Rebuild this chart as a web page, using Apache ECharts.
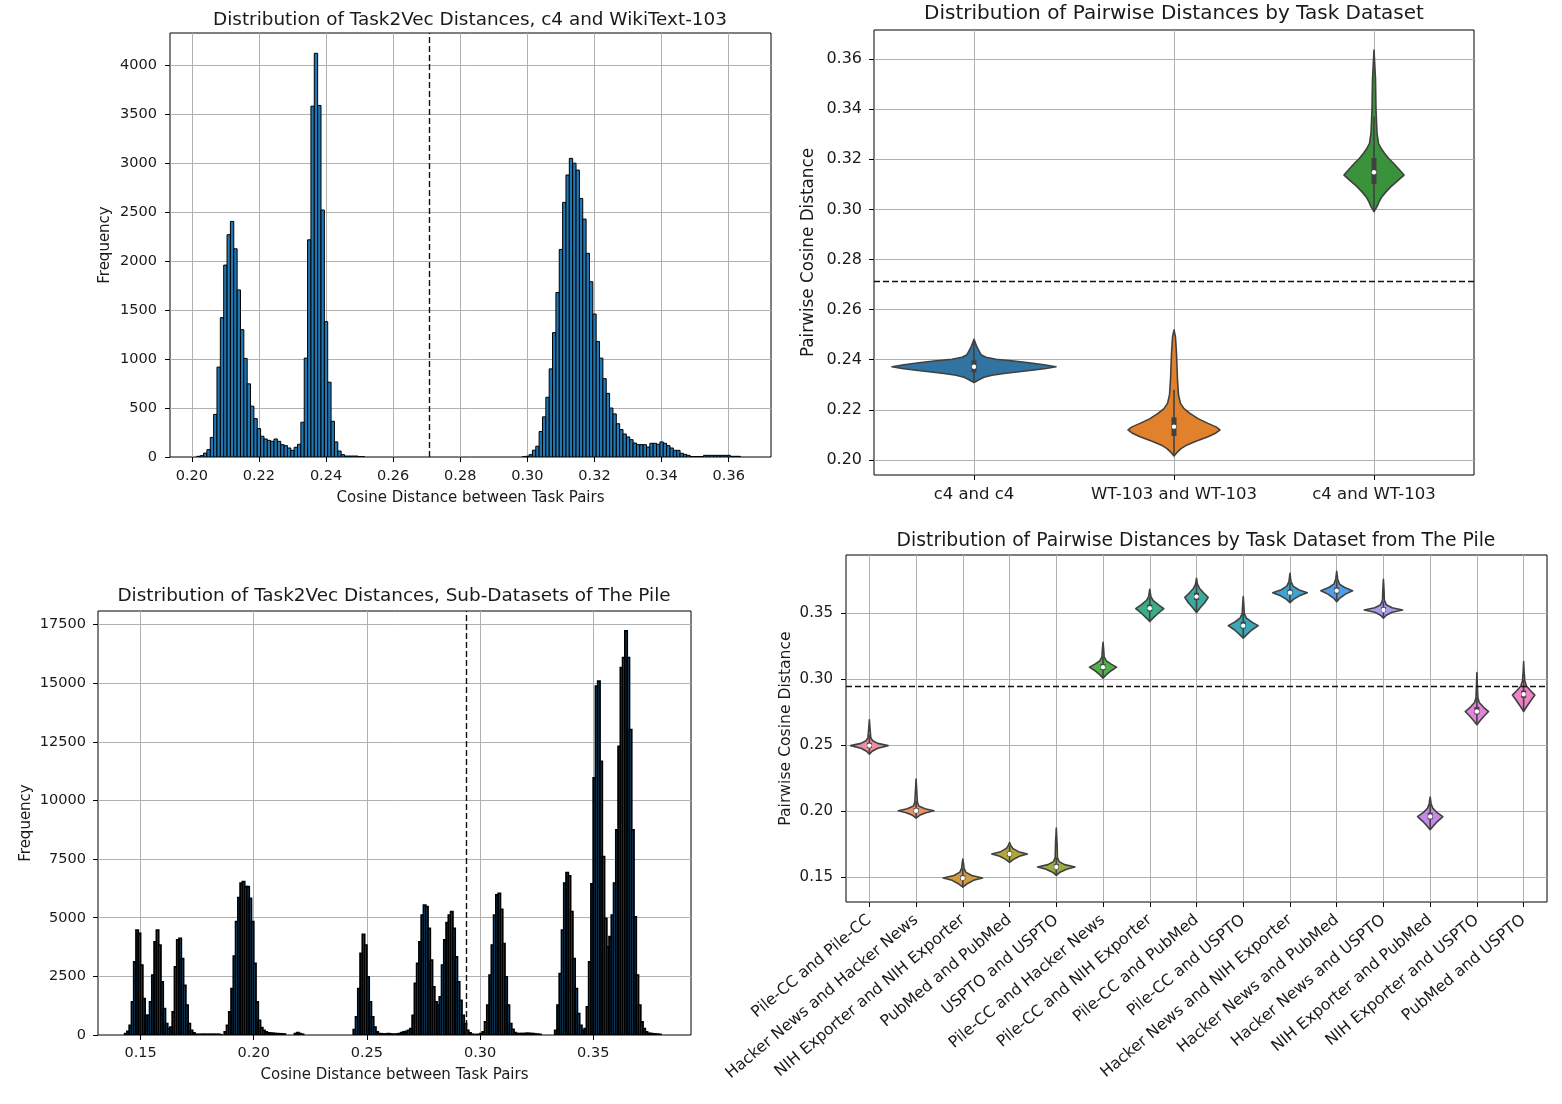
<!DOCTYPE html>
<html>
<head>
<meta charset="utf-8">
<script src="https://cdn.jsdelivr.net/npm/echarts@6/dist/echarts.min.js"></script>
<style>
html,body{margin:0;padding:0;background:#ffffff;}
#chart{width:1562px;height:1104px;}
</style>
</head>
<body>
<div id="chart"></div>
<script>
// ---------------- DATA ----------------
// Top-left histogram: c4 and WikiText-103 (bins of width 0.001 starting at 0.2015)
const hist1Start = 0.2015;
const hist1BinWidth = 0.001;
const hist1Counts = [
  7,14,40,75,200,435,918,1423,1960,2270,
  2406,2126,1706,1300,1007,747,519,392,290,212,
  184,170,160,184,160,126,116,92,68,99,
  130,355,1010,2218,3583,4123,3590,2522,1382,764,
  365,154,61,24,10,10,10,10,3,3,
  0,0,0,0,0,0,0,0,0,0,
  0,0,0,0,0,0,0,0,0,0,
  0,0,0,0,0,0,0,0,0,0,
  0,0,0,0,0,0,0,0,0,0,
  0,0,0,0,0,0,0,3,8,24,
  70,110,260,410,610,900,1270,1680,2120,2600,
  2880,3050,3000,2930,2640,2430,2080,1790,1460,1180,
  1010,800,650,500,440,340,280,235,205,177,
  143,126,126,126,102,140,140,130,154,140,
  116,92,68,68,38,27,17,5,5,5,
  5,17,17,17,17,17,17,17,17,7,
  7,7
];
const hist1Threshold = 0.2709;
const hist1XTicks = [0.20,0.22,0.24,0.26,0.28,0.30,0.32,0.34,0.36];
const hist1YTicks = [0,500,1000,1500,2000,2500,3000,3500,4000];

// Bottom-left histogram: sub-datasets of The Pile (bins of width 0.001 starting at 0.143)
const hist2Start = 0.143;
const hist2BinWidth = 0.001;
const hist2Counts = [
  57,150,413,1410,3120,4475,4330,2980,1550,840,
  840,1410,2550,3975,4475,3830,2265,1125,485,270,
  340,983,2900,4050,4120,3260,2120,1270,485,200,
  85,28,20,25,25,25,25,25,25,25,
  25,25,10,0,128,413,983,1980,3360,4830,
  5860,6470,6540,6330,6330,5830,4830,3050,1410,627,
  313,200,128,85,80,70,60,55,50,45,
  40,0,0,0,0,57,100,57,30,0,
  0,0,0,0,0,0,0,0,0,0,
  0,0,0,0,0,0,0,0,0,0,
  0,228,770,1980,3480,4290,3830,2480,1410,770,
  340,128,57,50,40,40,57,40,30,30,
  40,60,100,128,150,200,270,840,2195,3050,
  3975,5115,5540,5470,4545,3190,2050,1410,1270,1625,
  2980,4050,4790,5115,5260,4545,3335,2265,1480,840,
  485,200,85,30,10,20,20,60,128,555,
  1270,2550,3830,5115,5970,6040,5360,3900,2480,1270,
  485,242,100,57,57,57,57,70,70,57,
  57,40,30,20,0,0,0,0,0,0,
  200,1270,2620,4475,6470,6925,6780,5260,3260,1980,
  910,413,200,270,1197,3120,6440,10960,14880,15090,
  11670,7610,4970,3760,4190,5115,6470,8750,12310,15660,
  16090,17230,16090,13020,8750,5040,2550,1270,555,270,
  128,70,60,50,40,30,20
];
const hist2Threshold = 0.2941;
const hist2XTicks = [0.15,0.20,0.25,0.30,0.35];
const hist2YTicks = [0,2500,5000,7500,10000,12500,15000,17500];

// Top-right violins: profile = [value, half width as fraction of category band]
const violin1Categories = ['c4 and c4','WT-103 and WT-103','c4 and WT-103'];
const violin1Profiles = [
  [[0.2309,0],[0.2320,0.025],[0.2330,0.05],[0.2338,0.09],[0.2345,0.15],[0.2352,0.225],[0.2358,0.29],[0.2365,0.36],[0.2372,0.41],[0.2380,0.35],[0.2388,0.275],[0.2395,0.2],[0.2402,0.11],[0.2410,0.06],[0.2420,0.035],[0.2435,0.025],[0.2450,0.015],[0.2482,0]],
  [[0.2016,0],[0.2030,0.015],[0.2045,0.035],[0.2060,0.065],[0.2075,0.11],[0.2093,0.17],[0.2108,0.21],[0.2120,0.23],[0.2132,0.21],[0.2146,0.17],[0.2165,0.12],[0.2186,0.08],[0.2205,0.05],[0.2226,0.0325],[0.2260,0.0225],[0.2320,0.0175],[0.2425,0.0125],[0.2490,0.0075],[0.2519,0]],
  [[0.2991,0],[0.3011,0.015],[0.3030,0.025],[0.3051,0.04],[0.3070,0.06],[0.3091,0.085],[0.3112,0.115],[0.3137,0.15],[0.3160,0.125],[0.3184,0.0975],[0.3204,0.0725],[0.3224,0.0525],[0.3244,0.035],[0.3264,0.0225],[0.3304,0.015],[0.3400,0.01],[0.3520,0.0075],[0.3636,0]]
];
// [whisker low, q1, median, q3, whisker high]
const violin1Boxes = [
  [0.2309,0.2350,0.2372,0.2398,0.2470],
  [0.2016,0.2096,0.2133,0.2170,0.2280],
  [0.2991,0.3101,0.3148,0.3205,0.3370]
];
const violin1Threshold = 0.2714;
const violin1YTicks = [0.20,0.22,0.24,0.26,0.28,0.30,0.32,0.34,0.36];

// Bottom-right violins
const violin2Categories = [
  'Pile-CC and Pile-CC','Hacker News and Hacker News','NIH Exporter and NIH Exporter',
  'PubMed and PubMed','USPTO and USPTO','Pile-CC and Hacker News','Pile-CC and NIH Exporter',
  'Pile-CC and PubMed','Pile-CC and USPTO','Hacker News and NIH Exporter','Hacker News and PubMed',
  'Hacker News and USPTO','NIH Exporter and PubMed','NIH Exporter and USPTO','PubMed and USPTO'
];
const violin2Profiles = [
  [[0.2433,0],[0.2455,0.06],[0.2478,0.18],[0.2498,0.40],[0.2515,0.18],[0.2535,0.072],[0.2555,0.032],[0.2600,0.02],[0.2693,0]],
  [[0.1949,0],[0.1970,0.076],[0.1990,0.21],[0.2005,0.38],[0.2020,0.19],[0.2040,0.057],[0.2070,0.027],[0.2150,0.015],[0.2244,0]],
  [[0.1427,0],[0.1450,0.084],[0.1478,0.23],[0.1495,0.42],[0.1515,0.19],[0.1540,0.063],[0.1570,0.025],[0.1610,0.013],[0.1639,0]],
  [[0.1613,0],[0.1635,0.076],[0.1660,0.21],[0.1677,0.38],[0.1695,0.19],[0.1720,0.068],[0.1745,0.023],[0.1765,0]],
  [[0.1515,0],[0.1540,0.08],[0.1562,0.22],[0.1579,0.40],[0.1597,0.18],[0.1620,0.06],[0.1650,0.024],[0.1760,0.016],[0.1874,0]],
  [[0.3008,0],[0.3035,0.072],[0.3065,0.174],[0.3092,0.29],[0.3115,0.174],[0.3140,0.072],[0.3170,0.023],[0.3220,0.015],[0.3281,0]],
  [[0.3437,0],[0.3465,0.075],[0.3500,0.18],[0.3535,0.30],[0.3565,0.18],[0.3595,0.075],[0.3625,0.024],[0.3682,0]],
  [[0.3505,0],[0.3540,0.075],[0.3580,0.175],[0.3620,0.25],[0.3655,0.15],[0.3690,0.063],[0.3720,0.02],[0.3765,0]],
  [[0.3311,0],[0.3340,0.08],[0.3375,0.19],[0.3406,0.32],[0.3435,0.176],[0.3465,0.064],[0.3500,0.022],[0.3560,0.013],[0.3626,0]],
  [[0.3580,0],[0.3605,0.074],[0.3632,0.2],[0.3656,0.37],[0.3678,0.185],[0.3705,0.067],[0.3740,0.022],[0.3803,0]],
  [[0.3588,0],[0.3615,0.068],[0.3645,0.187],[0.3671,0.34],[0.3695,0.17],[0.3720,0.061],[0.3760,0.02],[0.3818,0]],
  [[0.3462,0],[0.3485,0.06],[0.3508,0.185],[0.3525,0.41],[0.3542,0.185],[0.3565,0.06],[0.3600,0.02],[0.3680,0.012],[0.3757,0]],
  [[0.1861,0],[0.1890,0.068],[0.1925,0.16],[0.1961,0.27],[0.1990,0.15],[0.2025,0.054],[0.2060,0.019],[0.2108,0]],
  [[0.2655,0],[0.2685,0.063],[0.2720,0.15],[0.2756,0.25],[0.2790,0.138],[0.2825,0.05],[0.2860,0.02],[0.2950,0.01],[0.3051,0]],
  [[0.2756,0],[0.2790,0.06],[0.2840,0.156],[0.2880,0.24],[0.2915,0.144],[0.2950,0.06],[0.2990,0.024],[0.3060,0.01],[0.3134,0]]
];
const violin2Boxes = [
  [0.2440,0.2480,0.2498,0.2520,0.2580],
  [0.1955,0.1990,0.2005,0.2025,0.2080],
  [0.1435,0.1480,0.1495,0.1515,0.1570],
  [0.1620,0.1660,0.1677,0.1695,0.1740],
  [0.1520,0.1562,0.1579,0.1600,0.1650],
  [0.3010,0.3070,0.3092,0.3115,0.3170],
  [0.3445,0.3515,0.3538,0.3565,0.3620],
  [0.3510,0.3600,0.3626,0.3655,0.3720],
  [0.3315,0.3385,0.3406,0.3435,0.3500],
  [0.3585,0.3640,0.3656,0.3680,0.3730],
  [0.3595,0.3650,0.3671,0.3695,0.3750],
  [0.3465,0.3510,0.3525,0.3545,0.3590],
  [0.1865,0.1940,0.1961,0.1990,0.2060],
  [0.2660,0.2735,0.2756,0.2790,0.2860],
  [0.2760,0.2860,0.2887,0.2915,0.3000]
];
const violin2Threshold = 0.2945;
const violin2YTicks = [0.15,0.20,0.25,0.30,0.35];

// ---------------- STYLES ----------------
const FONT = 'DejaVu Sans';
const TXT = '#1a1a1a';
const GRIDC = '#b0b0b0';
const HIST_FILL = '#1f77b4';
const VIOLIN1_COLORS = ['#3274a1','#e1812c','#3a923a'];
const VIOLIN2_COLORS = ['#ec8fa2','#e8926d','#cf9a40','#b3a43c','#99ae40','#50b04c','#3aae8b','#3aac9f','#3ba9b3','#3fa4cd','#4f9ee8','#a79dec','#c689e9','#e284dc','#eb84c3'];
const EDGE = '#404040';

const chart = echarts.init(document.getElementById('chart'), null, {renderer: 'canvas', width: 1562, height: 1104});

function histRender(binWidth, edgeWidth) {
  return function (params, api) {
    const x0 = api.value(0), c = api.value(1);
    if (!c) return null;
    const p0 = api.coord([x0, 0]);
    const p1 = api.coord([x0 + binWidth, c]);
    return {
      type: 'rect',
      shape: {x: p0[0], y: p1[1], width: p1[0] - p0[0], height: p0[1] - p1[1]},
      style: {fill: HIST_FILL, stroke: '#000', lineWidth: edgeWidth}
    };
  };
}

function violinRender(profiles, boxes, colors) {
  return function (params, api) {
    const i = params.dataIndex;
    const band = api.size([1, 0])[0];
    const cx = api.coord([i, boxes[i][2]])[0];
    const prof = profiles[i];
    const pts = [];
    for (let k = 0; k < prof.length; k++) {
      pts.push([cx + prof[k][1] * band, api.coord([i, prof[k][0]])[1]]);
    }
    for (let k = prof.length - 1; k >= 0; k--) {
      pts.push([cx - prof[k][1] * band, api.coord([i, prof[k][0]])[1]]);
    }
    const yy = boxes[i].map(v => api.coord([i, v])[1]);
    return {
      type: 'group',
      children: [
        {type: 'polygon', shape: {points: pts}, style: {fill: colors[i], stroke: EDGE, lineWidth: 1.6, lineJoin: 'round'}},
        {type: 'line', shape: {x1: cx, y1: yy[0], x2: cx, y2: yy[4]}, style: {stroke: EDGE, lineWidth: 1.6}},
        {type: 'line', shape: {x1: cx, y1: yy[1], x2: cx, y2: yy[3]}, style: {stroke: EDGE, lineWidth: 5}},
        {type: 'circle', shape: {cx: cx, cy: yy[2], r: 2.2}, style: {fill: '#ffffff'}}
      ]
    };
  };
}

function valueAxis(gridIndex, min, max, ticks, fmt, margin, name, nameGap, fs, nfs) {
  return {
    type: 'value', gridIndex: gridIndex, min: min, max: max,
    name: name, nameLocation: 'middle', nameGap: nameGap,
    nameTextStyle: {fontSize: nfs || 15, color: TXT, fontFamily: FONT},
    axisLine: {show: false},
    axisTick: {show: true, length: 5, customValues: ticks, lineStyle: {color: '#000', width: 1}},
    axisLabel: {customValues: ticks, formatter: fmt, margin: margin, fontSize: fs || 14.5, color: TXT, fontFamily: FONT},
    splitLine: {show: false}
  };
}

function categoryAxis(gridIndex, cats, labelOpt) {
  return {
    type: 'category', gridIndex: gridIndex, data: cats, boundaryGap: true,
    axisLine: {show: false},
    axisTick: {show: true, alignWithLabel: true, length: 5, interval: 0, lineStyle: {color: '#000', width: 1}},
    axisLabel: Object.assign({interval: 0, fontSize: 14.5, color: TXT, fontFamily: FONT}, labelOpt),
    splitLine: {show: false}
  };
}

function gridLines(xIdx, yIdx, anchor, xVals, yVals) {
  return {
    type: 'line', xAxisIndex: xIdx, yAxisIndex: yIdx, data: [anchor], symbol: 'none', silent: true,
    lineStyle: {opacity: 0}, z: 1,
    markLine: {
      silent: true, symbol: ['none', 'none'], label: {show: false}, z: 1, precision: 6,
      lineStyle: {color: GRIDC, width: 1, type: 'solid'},
      emphasis: {disabled: true},
      data: xVals.map(v => ({xAxis: v})).concat(yVals.map(v => ({yAxis: v})))
    }
  };
}

function thresholdLine(xIdx, yIdx, anchor, spec) {
  return {
    type: 'line', xAxisIndex: xIdx, yAxisIndex: yIdx, data: [anchor], symbol: 'none', silent: true,
    lineStyle: {opacity: 0}, z: 20,
    markLine: {
      silent: true, symbol: ['none', 'none'], label: {show: false}, z: 20, precision: 6,
      lineStyle: {color: '#111', width: 1.4, type: [6, 3]},
      emphasis: {disabled: true},
      data: [spec]
    }
  };
}

const fmt2 = v => Number(v).toFixed(2);
const fmt0 = v => String(Math.round(v));

const hist1Data = hist1Counts.map((c, i) => [hist1Start + i * hist1BinWidth, c]);
const hist2Data = hist2Counts.map((c, i) => [hist2Start + i * hist2BinWidth, c]);

const gridBase = {show: true, borderColor: '#000', borderWidth: 1, backgroundColor: 'transparent', containLabel: false};

const titleStyle = {fontSize: 18, fontWeight: 'normal', color: TXT, fontFamily: FONT};

const option = {
  animation: false,
  backgroundColor: '#ffffff',
  textStyle: {fontFamily: FONT},
  title: [
    {text: 'Distribution of Task2Vec Distances, c4 and WikiText-103', left: 470, top: 11, textAlign: 'center', padding: 0, textStyle: Object.assign({}, titleStyle, {fontSize: 18.4})},
    {text: 'Distribution of Pairwise Distances by Task Dataset', left: 1174, top: 4, textAlign: 'center', padding: 0, textStyle: Object.assign({}, titleStyle, {fontSize: 20})},
    {text: 'Distribution of Task2Vec Distances, Sub-Datasets of The Pile', left: 394, top: 587, textAlign: 'center', padding: 0, textStyle: Object.assign({}, titleStyle, {fontSize: 18.4})},
    {text: 'Distribution of Pairwise Distances by Task Dataset from The Pile', left: 1196, top: 532, textAlign: 'center', padding: 0, textStyle: Object.assign({}, titleStyle, {fontSize: 18.8})}
  ],
  grid: [
    Object.assign({left: 170, top: 33, width: 601, height: 424}, gridBase),
    Object.assign({left: 874, top: 30, width: 600, height: 445}, gridBase),
    Object.assign({left: 98, top: 611, width: 593, height: 424}, gridBase),
    Object.assign({left: 846, top: 555, width: 701, height: 347}, gridBase)
  ],
  xAxis: [
    valueAxis(0, 0.1935, 0.3726, hist1XTicks, fmt2, 12, 'Cosine Distance between Task Pairs', 34),
    categoryAxis(1, violin1Categories, {margin: 11, fontSize: 16.5}),
    valueAxis(2, 0.1312, 0.3932, hist2XTicks, fmt2, 11, 'Cosine Distance between Task Pairs', 33),
    categoryAxis(3, violin2Categories, {margin: 16, rotate: 40, fontSize: 15.8})
  ],
  yAxis: [
    valueAxis(0, 0, 4330, hist1YTicks, fmt0, 13, 'Frequency', 57),
    valueAxis(1, 0.1940, 0.3716, violin1YTicks, fmt2, 12, 'Pairwise Cosine Distance', 57, 16, 16.8),
    valueAxis(2, 0, 18080, hist2YTicks, fmt0, 12, 'Frequency', 64),
    valueAxis(3, 0.1314, 0.3941, violin2YTicks, fmt2, 13, 'Pairwise Cosine Distance', 52, 15, 15.6)
  ],
  series: [
    gridLines(0, 0, [0.25, 100], hist1XTicks, hist1YTicks.filter(v => v !== 0)),
    gridLines(1, 1, [violin1Categories[0], 0.25], violin1Categories, violin1YTicks),
    gridLines(2, 2, [0.25, 100], hist2XTicks, hist2YTicks.filter(v => v !== 0)),
    gridLines(3, 3, [violin2Categories[0], 0.25], violin2Categories, violin2YTicks),
    {
      type: 'custom', xAxisIndex: 0, yAxisIndex: 0, z: 10, clip: true,
      data: hist1Data, encode: {x: 0, y: 1}, renderItem: histRender(hist1BinWidth, 1)
    },
    {
      type: 'custom', xAxisIndex: 2, yAxisIndex: 2, z: 10, clip: true,
      data: hist2Data, encode: {x: 0, y: 1}, renderItem: histRender(hist2BinWidth, 1.8)
    },
    {
      type: 'custom', xAxisIndex: 1, yAxisIndex: 1, z: 10, clip: true,
      data: violin1Boxes.map((b, i) => [i, b[2]]), encode: {x: 0, y: 1},
      renderItem: violinRender(violin1Profiles, violin1Boxes, VIOLIN1_COLORS)
    },
    {
      type: 'custom', xAxisIndex: 3, yAxisIndex: 3, z: 10, clip: true,
      data: violin2Boxes.map((b, i) => [i, b[2]]), encode: {x: 0, y: 1},
      renderItem: violinRender(violin2Profiles, violin2Boxes, VIOLIN2_COLORS)
    },
    thresholdLine(0, 0, [0.25, 100], {xAxis: hist1Threshold}),
    thresholdLine(1, 1, [violin1Categories[0], 0.25], {yAxis: violin1Threshold}),
    thresholdLine(2, 2, [0.25, 100], {xAxis: hist2Threshold}),
    thresholdLine(3, 3, [violin2Categories[0], 0.25], {yAxis: violin2Threshold})
  ]
};
chart.setOption(option);
</script>
</body>
</html>
